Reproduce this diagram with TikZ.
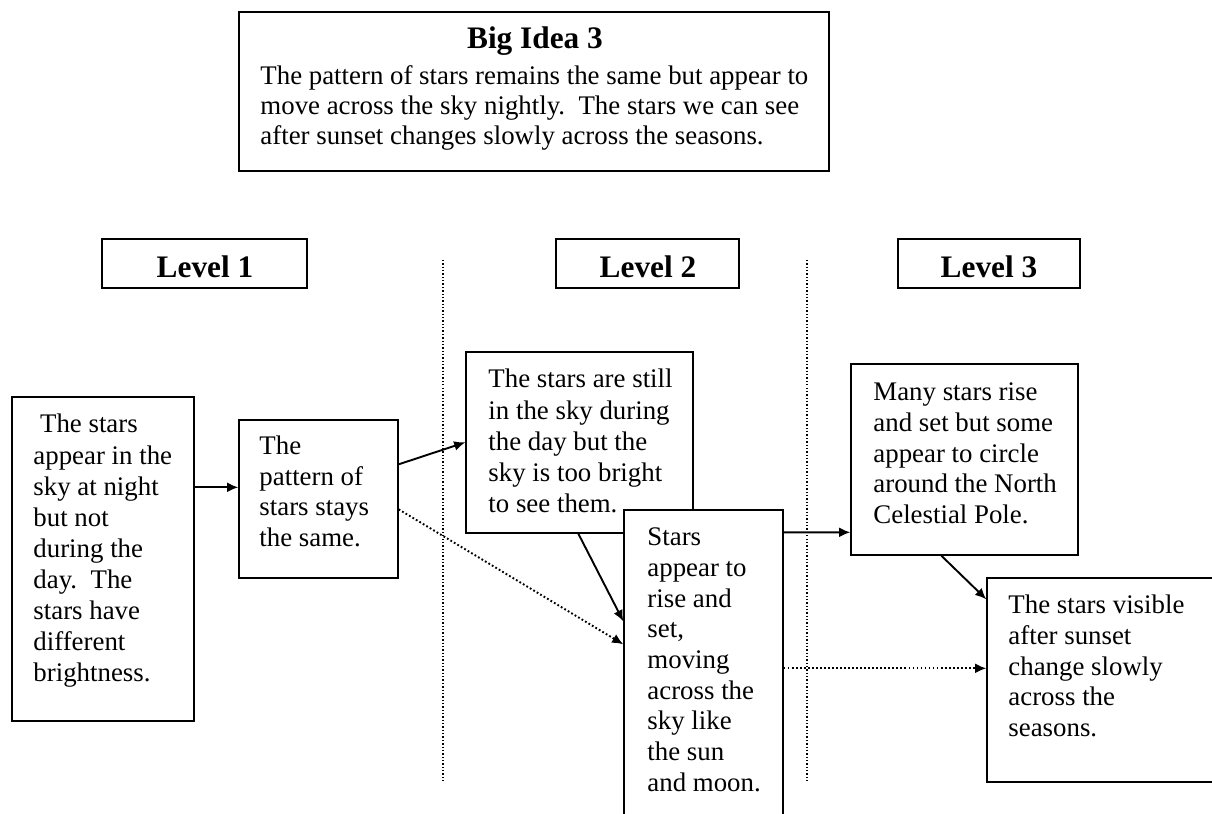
\documentclass[tikz,border=0pt]{standalone}
\usepackage{fontspec}
\setmainfont{Liberation Serif}
\usetikzlibrary{fit,calc,arrows.meta}
\newcommand\boxlines[2]{\parbox[t]{300pt}{\fontsize{12}{#1}\selectfont #2}}
\begin{document}
\begin{tikzpicture}[x=0.447pt,y=-0.447pt,
  box/.style={draw, line width=0.6pt, inner sep=0pt, fill=white},
  txt/.style={anchor=base west, inner sep=0pt, align=left},
  head/.style={anchor=base, inner sep=0pt, font=\fontsize{14}{16}\selectfont\bfseries},
  conn/.style={line width=0.85pt, -{Latex[length=5pt,width=4.4pt]}},
  dconn/.style={line width=0.85pt, dash pattern=on 0.8pt off 1pt, -{Latex[length=5pt,width=4.4pt]}},
  divider/.style={line width=0.6pt, dash pattern=on 0.6pt off 0.9pt}]
\useasboundingbox (0,0) rectangle (1212,814);
\clip (0,0) rectangle (1212,814);

% Big idea
\node[box, fit={(239,12) (829,171)}] (big) {};
\node[head] (bigT) at (535,49) {Big Idea 3};
\node[txt] (bigX) at (260,85) {\boxlines{13.4pt}{The pattern of stars remains the same but appear to\\move across the sky nightly.\ \ The stars we can see\\after sunset changes slowly across the seasons.}};

% level headers
\node[box, fit={(102,239) (307,288)}] (L1) {};
\node[head] (L1t) at (205,278) {Level 1};
\node[box, fit={(556,239) (739,288)}] (L2) {};
\node[head] (L2t) at (648,278) {Level 2};
\node[box, fit={(898,239) (1080,288)}] (L3) {};
\node[head] (L3t) at (989,278) {Level 3};

% dividers
\coordinate (v1t) at (443,260);
\coordinate (v1b) at (443,782);
\coordinate (v2t) at (807,260);
\coordinate (v2b) at (807,782);
\draw[divider] (v1t) -- (v1b);
\draw[divider] (v2t) -- (v2b);

% content boxes
\node[box, fit={(12,397) (194,721)}] (A) {};
\node[txt] (At) at (33,433) {\boxlines{13.9pt}{\hspace*{3pt}The stars\\appear in the\\sky at night\\but not\\during the\\day.\ \ The\\stars have\\different\\brightness.}};

\node[box, fit={(239,420) (398,578)}] (B) {};
\node[txt] (Bt) at (259,455) {\boxlines{13.6pt}{The\\pattern of\\stars stays\\the same.}};

\node[box, fit={(466,352) (693,533)}] (C) {};
\node[txt] (Ct) at (488,388) {\boxlines{13.9pt}{The stars are still\\in the sky during\\the day but the\\sky is too bright\\to see them.}};

\node[box, fit={(624,510) (783,840)}] (D) {};
\node[txt] (Dt) at (647,546) {\boxlines{13.7pt}{Stars\\appear to\\rise and\\set,\\moving\\across the\\sky like\\the sun\\and moon.}};

\node[box, fit={(851,364) (1078,555)}] (F) {};
\node[txt] (Ft) at (873,401) {\boxlines{13.65pt}{Many stars rise\\and set but some\\appear to circle\\around the North\\Celestial Pole.}};

\node[box, fit={(987,578) (1240,782)}] (G) {};
\node[txt] (Gt) at (1008,614) {\boxlines{13.7pt}{The stars visible\\after sunset\\change slowly\\across the\\seasons.}};

% connectors
\draw[conn] ($(A.north east)+(0,91)$) -- ($(B.north west)+(0,68)$);
\draw[conn] ($(B.north east)+(0,45)$) -- ($(C.north west)+(0,91)$);
\draw[dconn] ($(B.north east)+(0,90)$) -- ($(D.north west)+(0,135)$);
\draw[conn] ($(C.south west)+(113,0)$) -- ($(D.north west)+(0,112)$);
\draw[conn] ($(D.north east)+(0,23)$) -- ($(F.north west)+(0,169)$);
\draw[conn] ($(F.south west)+(91,0)$) -- ($(G.north west)+(0,22)$);
\draw[dconn] ($(D.north east)+(0,159)$) -- ($(G.north west)+(0,91)$);
\end{tikzpicture}
\end{document}
